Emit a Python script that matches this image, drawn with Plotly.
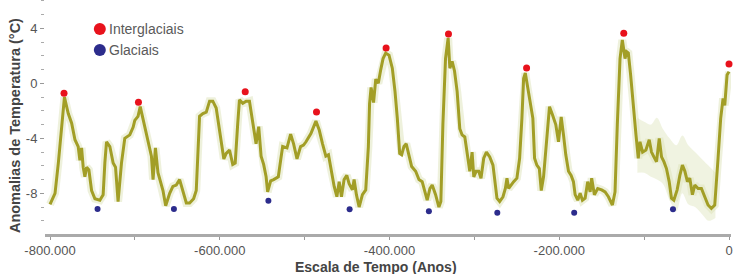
import plotly.graph_objects as go

# ---- data (years before present, temperature anomaly in °C) ----
years = [
    -800000, -796100, -794100, -790200, -784400, -783000, -778500, -774500, -770600, -766800,
    -764800, -762800, -760900, -758900, -756900, -754200, -751000, -747100, -741300, -737400,
    -735400, -733400, -729500, -725600, -722800, -719800, -715800, -711900, -706000, -702100,
    -700100, -696300, -693700, -688400, -684500, -680500, -678600, -675800, -672800, -668800,
    -666900, -663700, -659000, -655200, -651200, -647300, -643400, -639400, -635500, -630800,
    -627700, -623800, -619900, -615900, -612000, -608200, -604200, -600300, -597900, -595200,
    -592400, -588500, -584700, -581800, -578800, -576800, -572900, -568900, -565000, -561200,
    -557200, -554100, -551300, -548300, -545400, -543600, -540000, -536500, -531000, -527800,
    -525900, -520800, -516500, -513000, -509000, -504800, -501300, -498400, -492600, -486700,
    -482800, -478900, -475000, -471900, -469100, -465200, -462000, -459300, -456600, -453500,
    -450300, -447600, -443700, -441700, -439000, -435800, -431900, -428000, -424900, -423500,
    -421700, -418800, -416200, -413200, -410300, -407600, -404500, -400600, -396700, -393500,
    -390800, -388000, -385700, -383000, -380300, -377100, -373900, -369200, -365300, -361500,
    -358300, -355600, -352400, -349700, -345700, -341800, -339500, -337100, -334000, -330900,
    -328900, -326200, -323400, -320300, -317200, -314500, -311300, -308600, -305400, -302700,
    -300700, -298000, -294900, -292200, -289000, -285800, -281900, -278100, -275200, -273400,
    -270200, -266300, -263500, -261600, -259600, -256900, -253700, -249900, -246700, -244000,
    -242000, -240000, -237300, -234100, -231100, -229100, -226400, -223500, -221200, -218500,
    -214600, -211500, -207900, -204100, -200900, -197700, -195000, -192300, -189100, -186000,
    -183300, -181300, -178200, -175400, -172700, -169500, -166500, -163600, -161800, -158600,
    -154700, -150000, -146000, -142100, -137400, -134300, -131600, -128400, -125700, -122500,
    -120600, -118600, -115900, -112800, -109600, -106900, -104900, -101800, -97900, -94000,
    -91300, -88500, -85400, -82200, -79500, -76700, -73700, -70500, -67800, -65000,
    -61100, -57900, -54900, -52000, -49000, -46200, -43100, -40300, -36400, -32500,
    -28500, -24700, -20800, -16800, -12900, -9800, -7000, -5000, -2300, 0,
]
temps = [
    -8.8, -8.25, -8.0, -5.8, -1.7, -1.0, -2.2, -2.9, -4.1, -4.6,
    -5.6, -4.7, -6.1, -6.8, -6.1, -6.3, -7.8, -8.4, -8.5, -8.1,
    -5.8, -4.25, -4.6, -5.8, -6.1, -8.6, -5.8, -4.0, -3.75, -3.2,
    -2.7, -2.4, -1.7, -3.15, -4.1, -5.3, -7.0, -4.7, -6.5, -7.5,
    -7.8, -8.9, -8.0, -7.5, -7.4, -7.0, -7.8, -8.7, -8.7, -8.4,
    -7.8, -2.4, -2.2, -2.1, -1.3, -1.3, -1.8, -3.4, -4.2, -5.5,
    -5.1, -4.85, -5.9, -5.8, -2.9, -1.2, -1.45, -1.3, -1.3, -2.8,
    -4.4, -3.15, -5.3, -5.9, -6.8, -7.9, -7.1, -7.0, -6.8, -5.4,
    -4.6, -4.7, -3.7, -4.4, -5.5, -4.6, -4.5, -4.25, -3.65, -2.75,
    -3.4, -4.4, -5.3, -5.2, -6.2, -7.5, -8.25, -7.15, -8.25, -7.0,
    -6.7, -7.3, -7.75, -7.0, -8.1, -9.0, -8.1, -7.75, -4.6, -1.5,
    -0.3, -1.4, 0.3, 0.0, 1.0, 1.8, 2.2, 2.05, 1.1, -0.6,
    -2.55, -5.1, -5.2, -4.6, -4.4, -5.2, -6.05, -6.4, -7.0, -7.15,
    -7.9, -8.5, -7.65, -7.4, -8.1, -9.0, -8.6, -3.0, 1.8, 3.3,
    1.1, 1.6, 0.9, -0.6, -3.3, -3.75, -3.9, -5.0, -6.4, -5.0,
    -6.8, -6.4, -6.4, -6.9, -5.45, -5.0, -5.35, -5.95, -7.3, -8.35,
    -8.6, -8.25, -7.65, -6.9, -7.65, -7.4, -7.15, -6.9, -5.45, -2.55,
    0.35, 0.75, -0.35, -1.35, -2.55, -5.45, -5.95, -6.2, -7.8, -6.8,
    -4.0, -1.7, -2.3, -3.0, -4.25, -2.45, -3.75, -5.2, -6.4, -6.7,
    -7.15, -8.1, -8.5, -8.0, -8.5, -8.35, -7.15, -7.9, -6.9, -8.1,
    -7.65, -7.75, -7.9, -8.25, -8.85, -7.9, -3.0, 1.8, 3.15, 1.8,
    2.3, 2.2, 0.6, -1.8, -3.75, -5.45, -4.25, -5.0, -4.85, -4.1,
    -5.0, -5.35, -5.7, -4.0, -5.35, -5.7, -6.2, -7.15, -8.35, -8.5,
    -7.75, -6.7, -5.95, -6.4, -7.15, -6.9, -8.1, -7.4, -7.65, -7.65,
    -8.35, -8.85, -9.1, -8.85, -5.45, -2.55, -1.1, -1.6, 0.6, 0.85,
]

# spread of the individual estimates over the last glacial cycle
spread_years = [-108000, -100000, -92000, -85000, -78000, -70000, -62000,
                -55000, -48000, -40000, -32000, -24000, -16000]
spread_upper = [-2.5, -2.8, -3.0, -2.5, -3.3, -4.0, -4.5,
                -3.8, -4.5, -5.0, -5.5, -6.0, -6.5]
spread_lower = [-6.5, -6.5, -6.8, -7.0, -7.3, -8.5, -9.3,
                -8.0, -8.8, -9.0, -9.5, -10.0, -9.8]

interglacial_years = [-783500, -695800, -570000, -486000, -404000, -330500, -238500, -124000, 0]
interglacial_temps = [-0.73, -1.38, -0.61, -2.09, 2.57, 3.59, 1.11, 3.64, 1.4]

glacial_years = [-744000, -654000, -542700, -447000, -353600, -273000, -182400, -66000]
glacial_temps = [-9.14, -9.14, -8.54, -9.16, -9.31, -9.41, -9.41, -9.16]

x_tick_values = [-800000, -600000, -400000, -200000, 0]
x_tick_labels = ["-800.000", "-600.000", "-400.000", "-200.000", "0"]
y_tick_values = [-8, -4, 0, 4]
y_tick_labels = ["-8", "-4", "0", "4"]

legend_labels = ["Interglaciais", "Glaciais"]

# ---- styles ----
LINE = "rgb(162,158,38)"
HAZE = "rgba(222,228,186,0.5)"
RED = "#e8121c"
BLUE = "#2c2c8c"
FONT = "Liberation Sans, Arial, sans-serif"

fig = go.Figure()

fig.add_trace(go.Scatter(x=spread_years, y=spread_upper, mode="lines",
                         line=dict(width=0, color="rgba(0,0,0,0)", shape="spline"),
                         hoverinfo="skip", showlegend=False))
fig.add_trace(go.Scatter(x=spread_years, y=spread_lower, mode="lines",
                         line=dict(width=0, color="rgba(0,0,0,0)", shape="spline"),
                         fill="tonexty", fillcolor="rgba(228,233,200,0.55)",
                         hoverinfo="skip", showlegend=False))
fig.add_trace(go.Scatter(x=years, y=temps, mode="lines",
                         line=dict(color=HAZE, width=8), hoverinfo="skip",
                         showlegend=False))
fig.add_trace(go.Scatter(x=years, y=temps, mode="lines",
                         line=dict(color=LINE, width=3), showlegend=False))
fig.add_trace(go.Scatter(x=interglacial_years, y=interglacial_temps, mode="markers",
                         marker=dict(color=RED, size=7), name=legend_labels[0],
                         showlegend=False, cliponaxis=False))
fig.add_trace(go.Scatter(x=glacial_years, y=glacial_temps, mode="markers",
                         marker=dict(color=BLUE, size=6), name=legend_labels[1],
                         showlegend=False, cliponaxis=False))

W, H = 733, 274
L, R, T, B = 45, 0, 0, 40
pw, ph = W - L - R, H - T - B

def px(xp):
    return (xp - L) / pw

def py(yp):
    return (H - B - yp) / ph

# custom legend
for i, (lab, col) in enumerate(zip(legend_labels, [RED, BLUE])):
    cy = 29 + 21 * i
    fig.add_shape(type="circle", xref="paper", yref="paper",
                  xsizemode="pixel", ysizemode="pixel",
                  xanchor=px(100), yanchor=py(cy),
                  x0=-6, x1=6, y0=-6, y1=6,
                  fillcolor=col, line=dict(width=0))
    fig.add_annotation(x=px(107), y=py(cy), xref="paper", yref="paper",
                       text=lab, showarrow=False, xanchor="left", yanchor="middle",
                       font=dict(family=FONT, size=14, color="#5a5a5a"))

fig.add_annotation(x=px(377), y=py(267), xref="paper", yref="paper",
                   text="<b>Escala de Tempo (Anos)</b>", showarrow=False,
                   xanchor="center", yanchor="middle",
                   font=dict(family=FONT, size=14, color="#444"))
fig.add_annotation(x=px(15), y=py(126), xref="paper", yref="paper",
                   text="<b>Anomalias de Temperatura (°C)</b>", showarrow=False,
                   textangle=-90, xanchor="center", yanchor="middle",
                   font=dict(family=FONT, size=14.5, color="#444"))

fig.update_layout(
    width=W, height=H,
    margin=dict(l=L, r=R, t=T, b=B),
    plot_bgcolor="white", paper_bgcolor="white",
    font=dict(family=FONT, color="#555"),
)
fig.update_xaxes(
    range=[-805900, 2350], tickvals=x_tick_values, ticktext=x_tick_labels,
    ticks="outside", ticklen=3, tickcolor="#999", tickwidth=1,
    minor=dict(dtick=100000, tick0=0, ticks="outside", ticklen=3, tickcolor="#999"),
    showline=True, linecolor="#aaa", linewidth=2.5,
    showgrid=False, zeroline=False, ticklabeloverflow="allow",
    tickfont=dict(family=FONT, size=13, color="#555"),
)
fig.update_yaxes(
    range=[-10.96, 6.06], tickvals=y_tick_values, ticktext=y_tick_labels,
    ticks="outside", ticklen=4, tickcolor="#999",
    minor=dict(dtick=1, tick0=0, ticks="outside", ticklen=3, tickcolor="#aaa"),
    showline=False, showgrid=False, zeroline=False,
    tickfont=dict(family=FONT, size=13, color="#555"),
)

fig.write_html("out.html", config={"displayModeBar": False},
               post_script="document.body.style.margin='0';document.body.style.padding='0';")
